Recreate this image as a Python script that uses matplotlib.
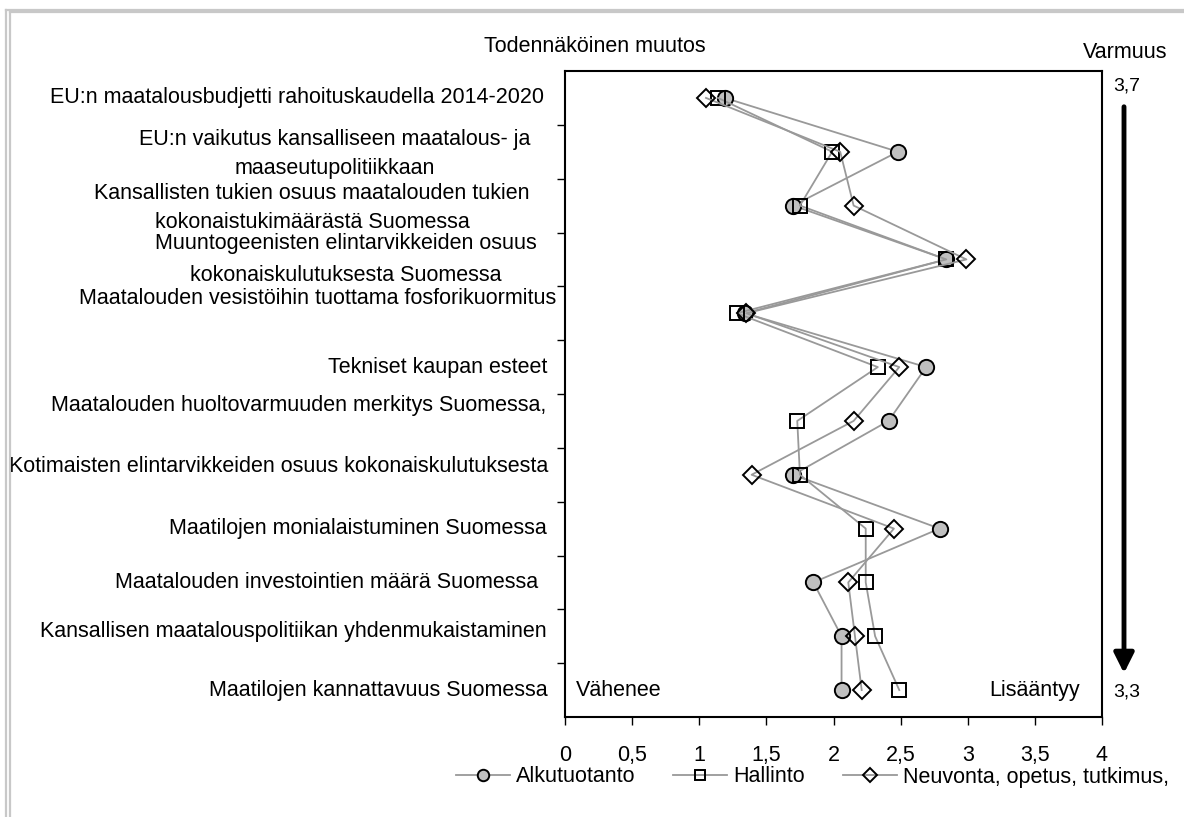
import numpy as np
import matplotlib.pyplot as plt
from matplotlib.lines import Line2D
from matplotlib.patches import FancyArrowPatch

plt.rcParams['font.family'] = ['Liberation Sans', 'DejaVu Sans']

# data
labels = [
    "EU:n maatalousbudjetti rahoituskaudella 2014-2020",
    "EU:n vaikutus kansalliseen maatalous- ja\nmaaseutupolitiikkaan",
    "Kansallisten tukien osuus maatalouden tukien\nkokonaistukimäärästä Suomessa",
    "Muuntogeenisten elintarvikkeiden osuus\nkokonaiskulutuksesta Suomessa",
    "Maatalouden vesistöihin tuottama fosforikuormitus",
    "Tekniset kaupan esteet",
    "Maatalouden huoltovarmuuden merkitys Suomessa,",
    "Kotimaisten elintarvikkeiden osuus kokonaiskulutuksesta",
    "Maatilojen monialaistuminen Suomessa",
    "Maatalouden investointien määrä Suomessa",
    "Kansallisen maatalouspolitiikan yhdenmukaistaminen",
    "Maatilojen kannattavuus Suomessa",
]
alkutuotanto = [1.19, 2.48, 1.70, 2.84, 1.34, 2.69, 2.41, 1.70, 2.79, 1.85, 2.06, 2.06]
hallinto = [1.14, 1.99, 1.75, 2.84, 1.28, 2.33, 1.73, 1.75, 2.24, 2.24, 2.31, 2.49]
neuvonta = [1.05, 2.05, 2.15, 2.99, 1.35, 2.49, 2.15, 1.39, 2.45, 2.11, 2.16, 2.21]
series_names = ["Alkutuotanto", "Hallinto", "Neuvonta, opetus, tutkimus,"]
x_ticks = [0, 0.5, 1, 1.5, 2, 2.5, 3, 3.5, 4]
varmuus_top = "3,7"
varmuus_bottom = "3,3"

# label layout (pixels): right edge x, shift upwards, line spacing
label_right = [544, 530, 530, 537, 556, 547, 546, 548, 547, 538, 547, 548]
label_up = [0, -2, -2, 0, 15, 0, 15, 8, 0, 0, 5, 0]
label_ls = [1.5, 1.5, 1.5, 1.7, 1.5, 1.5, 1.5, 1.5, 1.5, 1.5, 1.5, 1.5]

W, H = 1184, 817
fig = plt.figure(figsize=(W / 100, H / 100), dpi=100)

def fx(px):
    return px / W

def fy(py):
    return 1 - py / H

# outer frame (grey double line)
border = dict(color='#c8c8c8', lw=1.6, transform=fig.transFigure)
fig.add_artist(Line2D([fx(6), fx(6)], [fy(10), 0], **border))
fig.add_artist(Line2D([fx(10), fx(10)], [fy(12), 0], **border))
fig.add_artist(Line2D([fx(6), 1], [fy(10), fy(10)], **border))
fig.add_artist(Line2D([fx(10), 1], [fy(12), fy(12)], **border))

ax = fig.add_axes([fx(565), fy(717), fx(1102) - fx(565), (717 - 71) / H])

y = np.arange(len(labels))
grey = '#999999'
styles = [
    dict(marker='o', markersize=11, markerfacecolor='#c0c0c0'),
    dict(marker='s', markersize=10.5, markerfacecolor='none'),
    dict(marker='D', markersize=9, markerfacecolor='none'),
]
for vals, st, name in zip([alkutuotanto, hallinto, neuvonta], styles, series_names):
    ax.plot(vals, y, color=grey, lw=1.3, markeredgecolor='black',
            markeredgewidth=1.4, label=name, **st)

ax.set_xlim(0, 4)
ax.set_ylim(len(labels) - 0.5, -0.5)
ax.set_xticks(x_ticks)
ax.set_xticklabels([("%g" % t).replace('.', ',') for t in x_ticks], fontsize=15.5)
ax.tick_params(axis='x', direction='out', length=6, width=1, pad=14)
ax.set_yticks(np.arange(len(labels) - 1) + 0.5)
ax.set_yticklabels([])
ax.tick_params(axis='y', direction='out', length=6, width=1)
for s in ax.spines.values():
    s.set_linewidth(1.5)

for i, lab in enumerate(labels):
    ax.annotate(lab, xy=(fx(label_right[i]), i), xycoords=('figure fraction', 'data'),
                xytext=(0, label_up[i] * 0.72), textcoords='offset points',
                ha='right', va='center', multialignment='center',
                fontsize=15.5, linespacing=label_ls[i])

ax.text(0.02, 11, "Vähenee", fontsize=15.5, va='center', ha='left',
        transform=ax.get_yaxis_transform())
ax.text(0.959, 11, "Lisääntyy", fontsize=15.5, va='center', ha='right',
        transform=ax.get_yaxis_transform())

fig.text(fx(595), fy(46), "Todennäköinen muutos", fontsize=15.5, ha='center', va='center')
fig.text(fx(1125), fy(52), "Varmuus", fontsize=15.5, ha='center', va='center')
fig.text(fx(1127), fy(86), varmuus_top, fontsize=14, ha='center', va='center')
fig.text(fx(1127), fy(692), varmuus_bottom, fontsize=14, ha='center', va='center')
fig.add_artist(FancyArrowPatch(
    (fx(1124), fy(104)), (fx(1124), fy(676)), transform=fig.transFigure,
    arrowstyle='-|>,head_length=12,head_width=6', lw=3.5, color='black',
    mutation_scale=1))

fig.legend(loc='center left', bbox_to_anchor=(fx(456), fy(777)), ncol=3,
           frameon=False, fontsize=15.5, handlelength=2.5, handletextpad=0.3,
           columnspacing=1.75, markerscale=0.75, borderaxespad=0, borderpad=0)

plt.savefig("out.png", dpi=100)
